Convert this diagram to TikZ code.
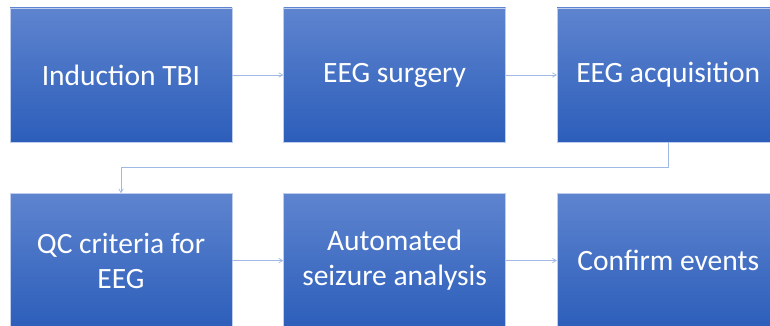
\documentclass[tikz,border=0pt]{standalone}
\usepackage{fontspec}
\setmainfont{Carlito}
\usetikzlibrary{arrows,positioning}

\definecolor{boxtop}{RGB}{94,132,207}
\definecolor{boxbot}{RGB}{44,94,186}
\definecolor{boxedge}{RGB}{190,205,235}
\definecolor{link}{RGB}{160,184,228}

\tikzset{
  stage/.style={rectangle, draw=boxedge, line width=0.6pt,
    top color=boxtop, bottom color=boxbot,
    minimum width=222pt, minimum height=134pt, inner sep=0pt,
    text=white, align=center, font=\fontsize{29.5}{35}\selectfont},
  flow/.style={draw=link, line width=0.7pt, ->, >=angle 60}
}

\begin{document}
\begin{tikzpicture}[x=1pt,y=-1pt]
  \useasboundingbox (0,0) rectangle (770,326);
  \clip (0,0) rectangle (770,326);
  \node[stage] (tbi) at (121,75) {Induction TBI};
  \node[stage, right=51pt of tbi] (surgery) {EEG surgery};
  \node[stage, right=51pt of surgery] (acq) {EEG acquisition};
  \node[stage, below=51pt of tbi] (qc) {QC criteria for\\EEG};
  \node[stage, right=51pt of qc] (auto) {Automated\\seizure analysis};
  \node[stage, right=51pt of auto] (confirm) {Confirm events};
  \draw[flow] (tbi) -- (surgery);
  \draw[flow] (surgery) -- (acq);
  \draw[flow] (acq.south) -- ++(0,25.5) -| (qc.north);
  \draw[flow] (qc) -- (auto);
  \draw[flow] (auto) -- (confirm);
\end{tikzpicture}
\end{document}
